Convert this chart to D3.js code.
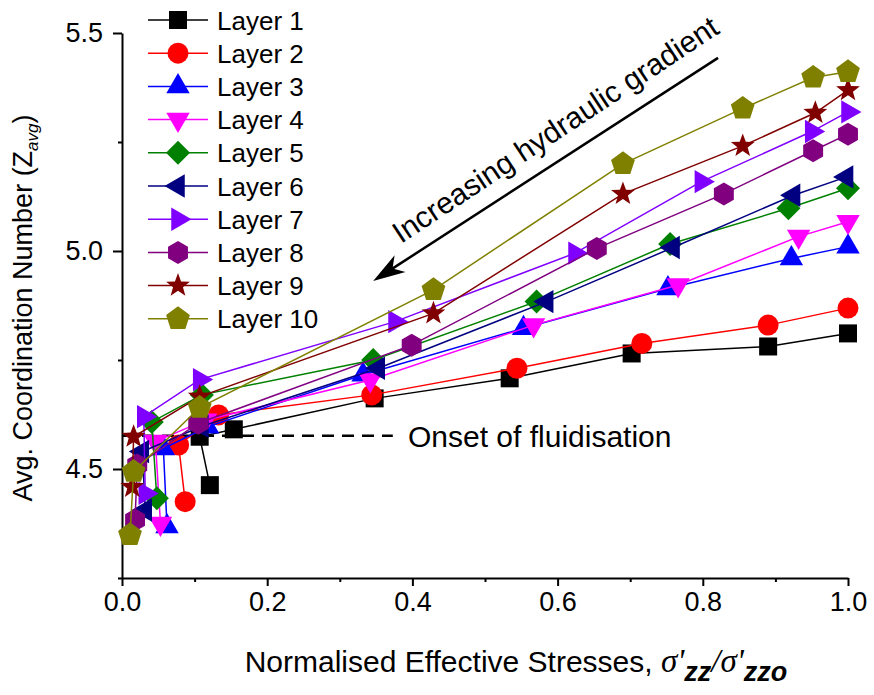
<!DOCTYPE html>
<html>
<head>
<meta charset="utf-8">
<script src="https://cdn.jsdelivr.net/npm/d3@7"></script>
<style>
  body { margin: 0; background: #fff; }
  svg { display: block; }
  text { font-family: "Liberation Sans", Arial, sans-serif; fill: #000; }
</style>
</head>
<body>
<svg id="chart" width="874" height="695"></svg>
<script>
// Average coordination number of each layer against normalised effective stress
// [sigma'zz / sigma'zz0, Z_avg], listed from low to high hydraulic gradient
const layer1  = [[1.000, 4.811], [0.890, 4.781], [0.702, 4.765], [0.534, 4.708], [0.348, 4.662], [0.154, 4.591], [0.107, 4.574], [0.121, 4.463]];
const layer2  = [[1.000, 4.869], [0.890, 4.830], [0.716, 4.788], [0.544, 4.731], [0.344, 4.670], [0.133, 4.624], [0.078, 4.555], [0.087, 4.425]];
const layer3  = [[1.000, 5.010], [0.922, 4.983], [0.752, 4.914], [0.553, 4.823], [0.332, 4.716], [0.118, 4.597], [0.057, 4.547], [0.062, 4.368]];
const layer4  = [[1.000, 5.067], [0.932, 5.033], [0.766, 4.922], [0.567, 4.830], [0.342, 4.704], [0.115, 4.612], [0.046, 4.563], [0.053, 4.375]];
const layer5  = [[1.000, 5.144], [0.918, 5.098], [0.755, 5.016], [0.571, 4.884], [0.346, 4.750], [0.110, 4.670], [0.041, 4.608], [0.048, 4.433]];
const layer6  = [[0.998, 5.170], [0.925, 5.128], [0.759, 5.008], [0.585, 4.884], [0.353, 4.731], [0.110, 4.598], [0.028, 4.540], [0.032, 4.406]];
const layer7  = [[1.000, 5.319], [0.950, 5.274], [0.798, 5.159], [0.624, 4.995], [0.376, 4.838], [0.107, 4.705], [0.030, 4.620], [0.032, 4.444]];
const layer8  = [[1.000, 5.268], [0.952, 5.230], [0.829, 5.131], [0.654, 5.006], [0.399, 4.784], [0.105, 4.605], [0.021, 4.509], [0.018, 4.383]];
const layer9  = [[1.000, 5.369], [0.955, 5.317], [0.855, 5.241], [0.690, 5.131], [0.429, 4.857], [0.107, 4.666], [0.016, 4.574], [0.014, 4.459]];
const layer10 = [[1.000, 5.411], [0.952, 5.398], [0.855, 5.327], [0.690, 5.200], [0.429, 4.911], [0.107, 4.641], [0.016, 4.494], [0.011, 4.349]];

const layerNames  = ["Layer 1", "Layer 2", "Layer 3", "Layer 4", "Layer 5", "Layer 6", "Layer 7", "Layer 8", "Layer 9", "Layer 10"];
const layerColors = ["#000000", "#ff0000", "#0000ff", "#ff00ff", "#008000", "#000080", "#8000ff", "#800080", "#800000", "#808000"];
const layerShapes = ["square", "circle", "triUp", "triDown", "diamond", "triLeft", "triRight", "hexagon", "star", "pentagon"];

const xTicks = [0, 0.2, 0.4, 0.6, 0.8, 1.0];
const xMinorTicks = [0.1, 0.3, 0.5, 0.7, 0.9];
const yTicks = [4.5, 5.0, 5.5];
const yMinorTicks = [4.25, 4.75, 5.25];

const onsetLevel = 4.576;   // Z_avg where fluidisation begins
const onsetEnd = 0.373;

const svg = d3.select("#chart");
const x = d3.scaleLinear().domain([0, 1]).range([122, 848]);
const y = d3.scaleLinear().domain([4.25, 5.5]).range([578, 33]);

// ---- marker shapes ----
function polygon(n, R, rotDeg) {
  const pts = [];
  for (let i = 0; i < n; i++) {
    const a = (rotDeg + i * 360 / n) * Math.PI / 180;
    pts.push([R * Math.sin(a), -R * Math.cos(a)]);
  }
  return "M" + pts.map(p => p[0].toFixed(2) + "," + p[1].toFixed(2)).join("L") + "Z";
}
function starPath(R, r) {
  const pts = [];
  for (let i = 0; i < 10; i++) {
    const a = i * Math.PI / 5;
    const rad = i % 2 === 0 ? R : r;
    pts.push([rad * Math.sin(a), -rad * Math.cos(a)]);
  }
  return "M" + pts.map(p => p[0].toFixed(2) + "," + p[1].toFixed(2)).join("L") + "Z";
}
function shapePath(name) {
  switch (name) {
    case "square":   return polygon(4, 9 * Math.SQRT2, 45);
    case "circle":   return d3.arc()({innerRadius: 0, outerRadius: 10.5, startAngle: 0, endAngle: 2 * Math.PI});
    case "triUp":    return polygon(3, 13.5, 0);
    case "triDown":  return polygon(3, 13.5, 180);
    case "triLeft":  return polygon(3, 13.5, -90);
    case "triRight": return polygon(3, 13.5, 90);
    case "diamond":  return polygon(4, 12, 0);
    case "hexagon":  return polygon(6, 11.5, 0);
    case "pentagon": return polygon(5, 12.5, 0);
    case "star":     return starPath(12.5, 5.2);
  }
}

// ---- axes ----
svg.append("g").attr("transform", `translate(0,${y(4.25)})`)
  .call(d3.axisBottom(x).tickValues(xTicks).tickFormat(d3.format(".1f")).tickSize(8).tickSizeOuter(0).tickPadding(6));
svg.append("g").attr("transform", `translate(0,${y(4.25)})`)
  .call(d3.axisBottom(x).tickValues(xMinorTicks).tickFormat("").tickSize(4).tickSizeOuter(0))
  .select(".domain").remove();

svg.append("g").attr("transform", `translate(${x(0)},0)`)
  .call(d3.axisLeft(y).tickValues(yTicks).tickFormat(d3.format(".1f")).tickSize(9).tickSizeOuter(0).tickPadding(10));
svg.append("g").attr("transform", `translate(${x(0)},0)`)
  .call(d3.axisLeft(y).tickValues(yMinorTicks).tickFormat("").tickSize(4).tickSizeOuter(0))
  .select(".domain").remove();

svg.selectAll(".domain").attr("stroke-width", 2).attr("stroke", "#000");
svg.selectAll(".tick line").attr("stroke-width", 2).attr("stroke", "#000");
svg.selectAll(".tick text").attr("font-size", 27).attr("font-family", "Liberation Sans, Arial, sans-serif").attr("fill", "#000");

// ---- onset of fluidisation marker ----
svg.append("line")
  .attr("x1", x(0)).attr("x2", x(onsetEnd))
  .attr("y1", y(onsetLevel)).attr("y2", y(onsetLevel))
  .attr("stroke", "#000").attr("stroke-width", 2.5).attr("stroke-dasharray", "12,8");
svg.append("text")
  .attr("x", 408).attr("y", y(onsetLevel) + 11)
  .attr("font-size", 30)
  .text("Onset of fluidisation");

// ---- series ----
const series = [layer1, layer2, layer3, layer4, layer5, layer6, layer7, layer8, layer9, layer10]
  .map((pts, i) => ({name: layerNames[i], color: layerColors[i], shape: layerShapes[i], pts}));

const line = d3.line().x(d => x(d[0])).y(d => y(d[1]));

series.forEach(s => {
  const g = svg.append("g");
  g.append("path").attr("d", line(s.pts))
    .attr("fill", "none").attr("stroke", s.color).attr("stroke-width", 1.5);
  g.selectAll("path.pt").data(s.pts).join("path")
    .attr("class", "pt")
    .attr("d", shapePath(s.shape))
    .attr("transform", d => `translate(${x(d[0])},${y(d[1])})`)
    .attr("fill", s.color);
});

// ---- legend ----
const legend = svg.append("g").attr("transform", "translate(148,20)");
series.forEach((s, i) => {
  const row = legend.append("g").attr("transform", `translate(0,${i * 33.2})`);
  row.append("line").attr("x1", 0).attr("x2", 60).attr("stroke", s.color).attr("stroke-width", 1.5);
  row.append("path").attr("d", shapePath(s.shape)).attr("transform", "translate(30,0)").attr("fill", s.color);
  row.append("text").attr("x", 69).attr("y", 9.5).attr("font-size", 26).text(s.name);
});

// ---- hydraulic gradient arrow ----
const aStart = [x(0.821), y(5.443)];
const aEnd = [x(0.346), y(4.931)];
const ang = Math.atan2(aEnd[1] - aStart[1], aEnd[0] - aStart[0]);
const headLen = 32, headW = 10;
svg.append("line")
  .attr("x1", aStart[0]).attr("y1", aStart[1])
  .attr("x2", aEnd[0] - Math.cos(ang) * headLen * 0.7).attr("y2", aEnd[1] - Math.sin(ang) * headLen * 0.7)
  .attr("stroke", "#000").attr("stroke-width", 2.5);
svg.append("path")
  .attr("d", `M0,0 L${-headLen},${-headW} L${-headLen * 0.72},0 L${-headLen},${headW} Z`)
  .attr("transform", `translate(${aEnd[0]},${aEnd[1]}) rotate(${ang * 180 / Math.PI})`)
  .attr("fill", "#000");
svg.append("text")
  .attr("transform", `translate(401,244) rotate(-33.5)`)
  .attr("font-size", 30)
  .text("Increasing hydraulic gradient");

// ---- axis titles ----
const xt = svg.append("text")
  .attr("x", 516).attr("y", 672)
  .attr("text-anchor", "middle")
  .attr("font-size", 30);
xt.append("tspan").text("Normalised Effective Stresses, ");
xt.append("tspan").attr("font-family", "Liberation Serif, Times New Roman, serif").attr("font-style", "italic").attr("font-size", 33).text("σ'");
xt.append("tspan").attr("font-weight", "bold").attr("font-style", "italic").attr("font-size", 27).attr("dy", 9).text("zz");
xt.append("tspan").attr("font-family", "Liberation Serif, Times New Roman, serif").attr("font-style", "italic").attr("font-size", 33).attr("dy", -9).text("/σ'");
xt.append("tspan").attr("font-weight", "bold").attr("font-style", "italic").attr("font-size", 27).attr("dy", 9).text("zzo");

const yt = svg.append("text")
  .attr("transform", "translate(32,308) rotate(-90)")
  .attr("text-anchor", "middle")
  .attr("font-size", 27);
yt.append("tspan").text("Avg. Coordination Number (Z");
yt.append("tspan").attr("font-style", "italic").attr("font-size", 17).attr("dy", 6).text("avg");
yt.append("tspan").attr("dy", -6).text(")");
</script>
</body>
</html>
